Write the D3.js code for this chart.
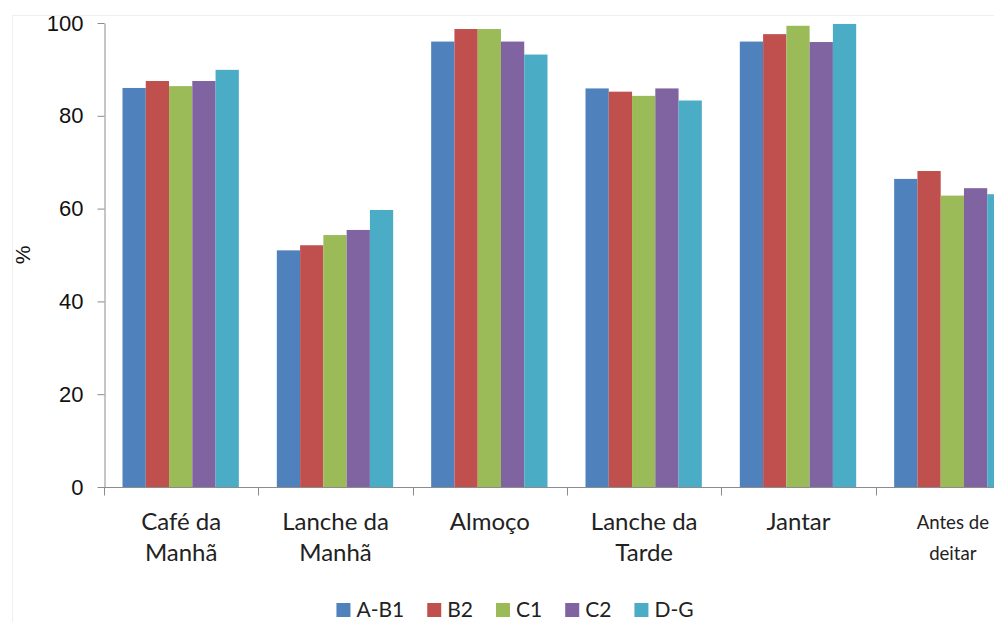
<!DOCTYPE html>
<html>
<head>
<meta charset="utf-8">
<script src="https://cdn.jsdelivr.net/npm/d3@7"></script>
<style>
  html, body { margin: 0; padding: 0; background: #fff; }
  svg { display: block; }
</style>
</head>
<body>
<svg id="chart" width="994" height="622"></svg>
<script>
// Meal categories (line breaks mark the two-line axis labels)
const categories = ["Café da\nManhã", "Lanche da\nManhã", "Almoço", "Lanche da\nTarde", "Jantar", "Antes de\ndeitar"];
const seriesNames = ["A-B1", "B2", "C1", "C2", "D-G"];
const seriesColors = ["#4F81BD", "#C0504D", "#9BBB59", "#8064A2", "#4BACC6"];

// Percentage per meal, one array per class
const valuesAB1 = [86.0, 51.0, 96.0, 85.9, 96.0, 66.4];
const valuesB2  = [87.5, 52.1, 98.7, 85.2, 97.6, 68.1];
const valuesC1  = [86.4, 54.3, 98.7, 84.3, 99.4, 62.8];
const valuesC2  = [87.5, 55.4, 96.0, 85.9, 95.9, 64.4];
const valuesDG  = [89.9, 59.7, 93.2, 83.3, 99.8, 63.1];

const yTicks = [0, 20, 40, 60, 80, 100];

const seriesValues = [valuesAB1, valuesB2, valuesC1, valuesC2, valuesDG];
const rows = categories.map((c, i) => ({
  category: c,
  values: seriesNames.map((s, j) => ({ series: s, value: seriesValues[j][i] }))
}));

const W = 994;
const svg = d3.select("#chart");

// faint outer frame of the chart area
svg.append("rect")
  .attr("x", 12.5).attr("y", 15.5)
  .attr("width", 1100).attr("height", 700)
  .attr("fill", "none").attr("stroke", "#efefef").attr("stroke-width", 1);

const plotLeft = 104, plotRight = 1030, plotTop = 23, plotBottom = 487;

const x0 = d3.scaleBand().domain(categories).range([plotLeft, plotRight]).padding(0);
const x1 = d3.scaleBand().domain(seriesNames).range([18.5, x0.bandwidth() - 19.5]).padding(0);
const y = d3.scaleLinear().domain([0, 100]).range([plotBottom, plotTop]);
const color = d3.scaleOrdinal().domain(seriesNames).range(seriesColors);

// bars
const groups = svg.append("g").selectAll("g")
  .data(rows).join("g")
  .attr("transform", d => `translate(${x0(d.category)},0)`);

groups.selectAll("rect")
  .data(d => d.values).join("rect")
  .attr("x", d => x1(d.series))
  .attr("y", d => y(d.value))
  .attr("width", x1.bandwidth())
  .attr("height", d => y(0) - y(d.value))
  .attr("fill", d => color(d.series));

// y axis
const yAxis = svg.append("g")
  .attr("transform", `translate(${plotLeft + 0.5},0)`)
  .call(d3.axisLeft(y).tickValues(yTicks).tickSize(7).tickPadding(14).tickSizeOuter(0));
yAxis.select(".domain").attr("stroke", "#8c8c8c");
yAxis.selectAll(".tick line").attr("stroke", "#8c8c8c");
yAxis.selectAll(".tick text")
  .attr("font-family", "'Liberation Sans', Arial, sans-serif")
  .attr("font-size", 22)
  .attr("fill", "#111");

// x axis line and category boundary ticks
const xAxis = svg.append("g").attr("transform", `translate(0,${plotBottom + 0.5})`);
xAxis.append("line")
  .attr("x1", plotLeft).attr("x2", plotRight)
  .attr("stroke", "#8c8c8c");
const boundaries = categories.map(c => x0(c)).concat([plotRight]);
xAxis.selectAll("line.b")
  .data(boundaries).join("line")
  .attr("class", "b")
  .attr("x1", d => Math.round(d) + 0.5).attr("x2", d => Math.round(d) + 0.5)
  .attr("y1", 0).attr("y2", 8)
  .attr("stroke", "#8c8c8c");

// category labels
const labelFont = "Lato, 'Open Sans', sans-serif";
const labelSize = 24;
const labels = svg.append("g").selectAll("text")
  .data(categories).join("text")
  .attr("x", d => x0(d) + x0.bandwidth() / 2)
  .attr("y", 530)
  .attr("text-anchor", "middle")
  .attr("font-family", labelFont)
  .attr("font-size", labelSize)
  .attr("fill", "#222");
labels.selectAll("tspan")
  .data(d => d.split("\n")).join("tspan")
  .attr("x", function () { return d3.select(this.parentNode).attr("x"); })
  .attr("dy", (d, i) => i === 0 ? 0 : 31)
  .text(d => d);

// a label that would run past the right edge is set in a smaller size
labels.each(function () {
  const cx = +d3.select(this).attr("x");
  const room = 2 * (W - 5 - cx);
  let widest = 0;
  d3.select(this).selectAll("tspan").each(function () {
    widest = Math.max(widest, this.getComputedTextLength());
  });
  if (widest > room) {
    const size = Math.floor(labelSize * room / widest * 10) / 10;
    d3.select(this).attr("font-size", size).attr("y", 529);
    d3.select(this).selectAll("tspan").attr("dy", (d, i) => i === 0 ? 0 : 31);
  }
});

// y axis title
svg.append("text")
  .attr("transform", "translate(30,255) rotate(-90)")
  .attr("text-anchor", "middle")
  .attr("font-family", "'Liberation Sans', Arial, sans-serif")
  .attr("font-size", 21)
  .attr("fill", "#111")
  .text("%");

// legend
const legend = svg.append("g");
let lx = 0;
seriesNames.forEach(name => {
  const item = legend.append("g").attr("transform", `translate(${lx},0)`);
  item.append("rect")
    .attr("x", 0).attr("y", 603).attr("width", 14).attr("height", 14)
    .attr("fill", color(name));
  const t = item.append("text")
    .attr("x", 20).attr("y", 617)
    .attr("font-family", labelFont)
    .attr("font-size", 21)
    .attr("fill", "#222")
    .text(name);
  lx += 20 + t.node().getComputedTextLength() + 23;
});
const legendWidth = lx - 23;
legend.attr("transform", `translate(${515 - legendWidth / 2},0)`);
</script>
</body>
</html>
